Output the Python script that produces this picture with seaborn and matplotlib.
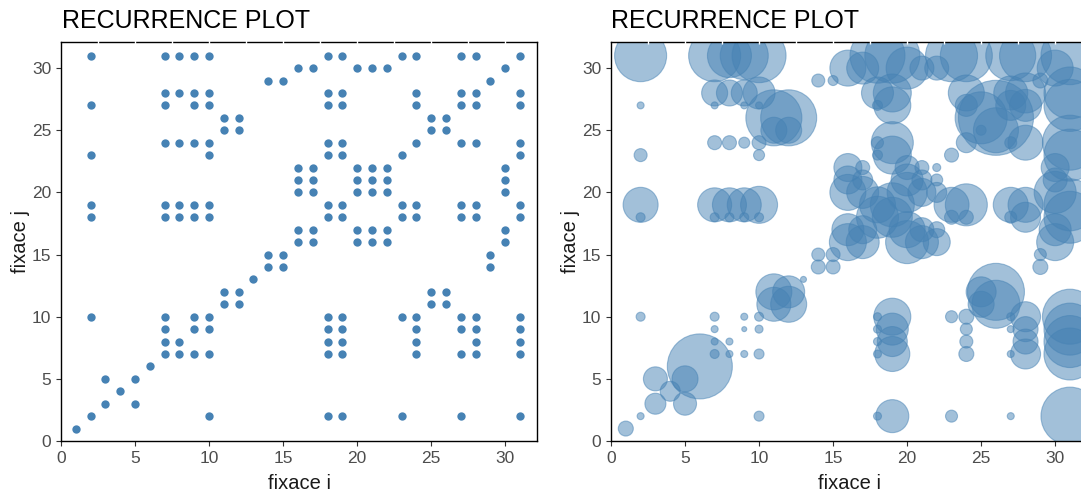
import numpy as np
import pandas as pd
import seaborn as sns
import matplotlib
matplotlib.use("Agg")
import matplotlib.pyplot as plt

# recurrence points (fixace i, fixace j), one line per column i
fix_i = [1,
         2, 2, 2, 2, 2, 2, 2,
         3, 3,
         4,
         5, 5,
         6,
         7, 7, 7, 7, 7, 7, 7, 7, 7, 7,
         8, 8, 8, 8, 8, 8, 8,
         9, 9, 9, 9, 9, 9, 9, 9, 9,
         10, 10, 10, 10, 10, 10, 10, 10, 10, 10, 10,
         11, 11, 11, 11,
         12, 12, 12, 12,
         13,
         14, 14, 14,
         15, 15, 15,
         16, 16, 16, 16, 16, 16,
         17, 17, 17, 17, 17, 17,
         18, 18, 18, 18, 18, 18, 18, 18, 18, 18, 18, 18,
         19, 19, 19, 19, 19, 19, 19, 19, 19, 19, 19, 19,
         20, 20, 20, 20, 20, 20,
         21, 21, 21, 21, 21, 21,
         22, 22, 22, 22, 22, 22,
         23, 23, 23, 23, 23, 23,
         24, 24, 24, 24, 24, 24, 24, 24, 24, 24,
         25, 25, 25, 25,
         26, 26, 26, 26,
         27, 27, 27, 27, 27, 27, 27, 27, 27, 27,
         28, 28, 28, 28, 28, 28, 28, 28, 28, 28,
         29, 29, 29,
         30, 30, 30, 30, 30, 30,
         31, 31, 31, 31, 31, 31, 31, 31, 31, 31, 31, 31]

fix_j = [1,
         2, 10, 18, 19, 23, 27, 31,
         3, 5,
         4,
         3, 5,
         6,
         7, 8, 9, 10, 18, 19, 24, 27, 28, 31,
         7, 8, 18, 19, 24, 28, 31,
         7, 9, 10, 18, 19, 24, 27, 28, 31,
         2, 7, 9, 10, 18, 19, 23, 24, 27, 28, 31,
         11, 12, 25, 26,
         11, 12, 25, 26,
         13,
         14, 15, 29,
         14, 15, 29,
         16, 17, 20, 21, 22, 30,
         16, 17, 20, 21, 22, 30,
         2, 7, 8, 9, 10, 18, 19, 23, 24, 27, 28, 31,
         2, 7, 8, 9, 10, 18, 19, 23, 24, 27, 28, 31,
         16, 17, 20, 21, 22, 30,
         16, 17, 20, 21, 22, 30,
         16, 17, 20, 21, 22, 30,
         2, 10, 18, 19, 23, 31,
         7, 8, 9, 10, 18, 19, 24, 27, 28, 31,
         11, 12, 25, 26,
         11, 12, 25, 26,
         2, 7, 9, 10, 18, 19, 24, 27, 28, 31,
         7, 8, 9, 10, 18, 19, 24, 27, 28, 31,
         14, 15, 29,
         16, 17, 20, 21, 22, 30,
         2, 7, 8, 9, 10, 18, 19, 23, 24, 27, 28, 31]

# bubble diameter (px)
bubble_px = [15,
             7, 9, 9, 35, 13, 7, 52,
             21, 24,
             20,
             23, 26,
             65,
             9, 7, 7, 9, 9, 34, 14, 7, 26, 52,
             7, 7, 9, 34, 14, 26, 44,
             7, 5, 7, 9, 34, 11, 7, 26, 48,
             10, 10, 8, 9, 9, 37, 11, 14, 7, 32, 54,
             34, 36, 26, 56,
             36, 32, 26, 56,
             6,
             14, 13, 13,
             14, 14, 10,
             37, 32, 36, 28, 28, 36,
             33, 28, 32, 20, 14, 32,
             8, 8, 8, 8, 8, 42, 36, 10, 12, 10, 32, 55,
             33, 35, 30, 32, 37, 40, 44, 38, 42, 37, 38, 55,
             43, 36, 40, 32, 24, 42,
             33, 24, 28, 20, 14, 24,
             27, 16, 20, 12, 8, 24,
             12, 12, 14, 35, 14, 52,
             15, 13, 12, 15, 14, 42, 20, 22, 36, 52,
             26, 30, 10, 52,
             48, 57, 45, 75,
             7, 7, 7, 8, 12, 35, 12, 30, 34, 50,
             30, 25, 25, 30, 30, 35, 35, 32, 40, 52,
             15, 12, 15,
             37, 32, 42, 24, 28, 36,
             58, 52, 52, 52, 55, 52, 52, 52, 55, 52, 52, 58]

ticks = [0, 5, 10, 15, 20, 25, 30]
title = "RECURRENCE PLOT"

assert len(fix_i) == len(fix_j) == len(bubble_px)

df = pd.DataFrame({"i": fix_i, "j": fix_j, "area": np.array(bubble_px) ** 2})

sns.set_style("white")
plt.rcParams["font.family"] = ["Liberation Sans", "DejaVu Sans"]

W, H = 1081, 493
fig = plt.figure(figsize=(W / 100, H / 100), dpi=100)
ax1 = fig.add_axes([61 / W, 52 / H, 476 / W, 399 / H])
ax2 = fig.add_axes([611 / W, 52 / H, 476 / W, 399 / H])

col = "#4682B4"

sns.scatterplot(data=df, x="i", y="j", ax=ax1, color=col, s=36, linewidth=0)

# px diameter -> marker area in pt^2 (0.72 pt per px at 100 dpi)
amax = 6000
sns.scatterplot(data=df, x="i", y="j", size="area", ax=ax2, color=col,
                sizes=(0, 0.5184 * amax), size_norm=(0, amax),
                alpha=0.5, edgecolor=col, linewidth=0.8, legend=False)

for ax in (ax1, ax2):
    ax.set_xlim(0, 32.15)
    ax.set_ylim(0, 32.1)
    ax.set_xticks(ticks)
    ax.set_yticks(ticks)
    ax.tick_params(axis="both", which="major", length=3.6, width=0.8,
                   color="#333333", labelcolor="#4D4D4D", labelsize=12.5, pad=3.5,
                   bottom=True, left=True)
    for sp in ax.spines.values():
        sp.set_color("black")
        sp.set_linewidth(1.0)
    ax.set_xlabel("fixace i", fontsize=14.5, color="#1a1a1a", labelpad=6)
    ax.set_ylabel("fixace j", fontsize=14.5, color="#1a1a1a", labelpad=1)
    # small white breaks on the top border where the grid meets it
    gx = np.arange(2.5, 32, 2.5)
    ax.vlines(gx, 31.95, 32.25, colors="white", linewidth=1.0, clip_on=False, zorder=5)

fig.text(62 / W, 1 - 27.5 / H, title, fontsize=18, color="black", va="baseline", ha="left")
fig.text(611 / W, 1 - 27.5 / H, title, fontsize=18, color="black", va="baseline", ha="left")

fig.savefig("out.png", dpi=100)
